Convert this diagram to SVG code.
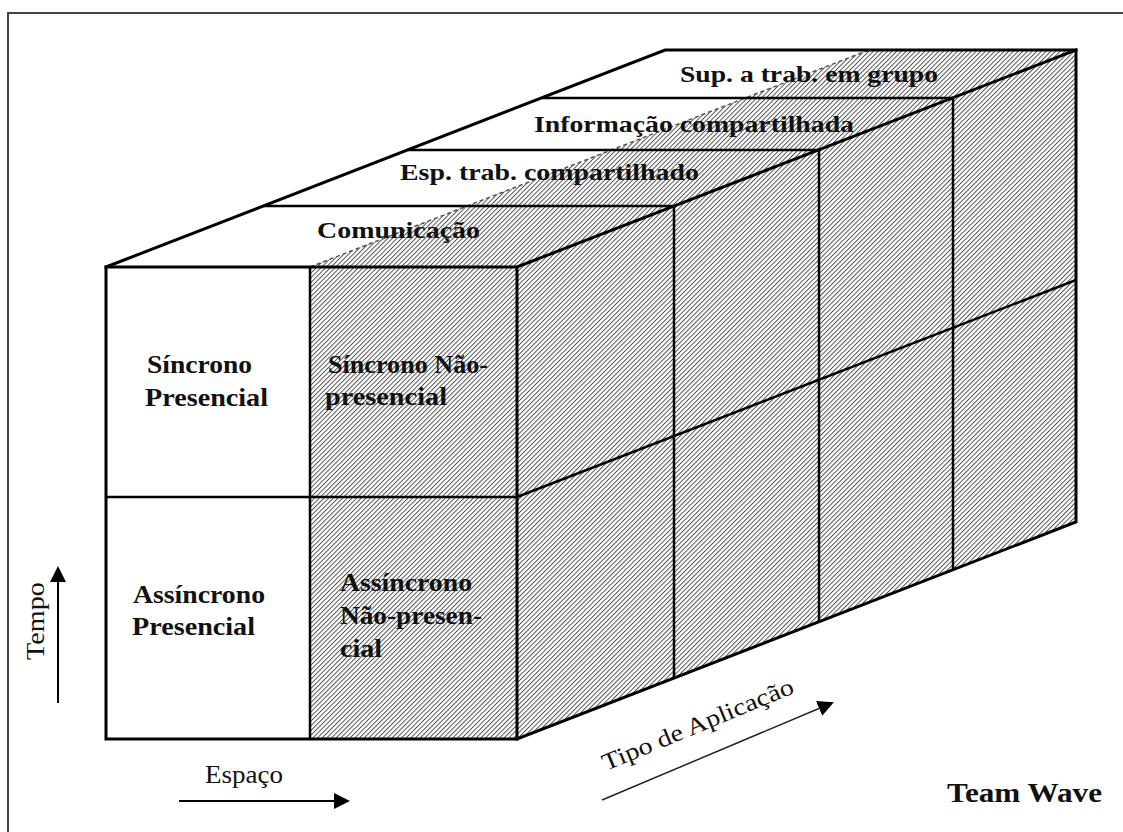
<svg xmlns="http://www.w3.org/2000/svg" width="1123" height="832" viewBox="0 0 1123 832">
<style>
.t{font-family:"Liberation Serif","Times New Roman",serif;fill:#111}
.b{font-weight:bold}
.edge{stroke:#000;stroke-width:3;fill:none;stroke-linecap:square}
.inner{stroke:#000;stroke-width:2.5;fill:none}
.hatch{fill:url(#h)}
</style>
<defs>
<pattern id="h" width="3.3" height="3.3" patternUnits="userSpaceOnUse" patternTransform="rotate(45)">
<rect width="3.3" height="3.3" fill="#fff"/>
<line x1="0.5" y1="0" x2="0.5" y2="3.3" stroke="#444" stroke-width="0.9"/>
</pattern>
<marker id="arr" markerWidth="16" markerHeight="16" refX="14" refY="8" orient="auto" markerUnits="userSpaceOnUse">
<path d="M0,0 L16,8 L0,16 Z" fill="#000"/>
</marker>
</defs>
<rect width="1123" height="832" fill="#fff"/>
<path d="M8,832 V13 H1123" fill="none" stroke="#444" stroke-width="2"/>

<g id="box">
<polygon points="106,267 310,267 869,50 665,50" fill="#fff"/>
<polygon class="hatch" points="310,267 517,267 1076,50 869,50"/>
<polygon class="hatch" points="517,267 1076,50 1076,522 517,739"/>
<rect x="106" y="267" width="204" height="472" fill="#fff"/>
<rect class="hatch" x="310" y="267" width="207" height="472"/>
<line x1="310" y1="267" x2="869" y2="50" stroke="#555" stroke-width="1.5" stroke-dasharray="4 3"/>
<line class="inner" x1="263" y1="206" x2="674" y2="206"/>
<line class="inner" x1="408" y1="150" x2="819" y2="150"/>
<line class="inner" x1="542" y1="98" x2="953" y2="98"/>
<line class="inner" x1="674" y1="206" x2="674" y2="678"/>
<line class="inner" x1="819" y1="150" x2="819" y2="622"/>
<line class="inner" x1="953" y1="98" x2="953" y2="570"/>
<line class="inner" x1="517" y1="497" x2="1076" y2="280"/>
<line class="inner" x1="310" y1="267" x2="310" y2="739"/>
<line class="inner" x1="106" y1="497" x2="517" y2="497"/>
<path class="edge" d="M106,267 L665,50 L1076,50 L1076,522 L517,739 L106,739 Z"/>
<path class="edge" d="M106,267 H517 V739 M517,267 L1076,50"/>
</g>

<g id="cell-sincrono-presencial">
<text class="t b" font-size="25" x="147" y="373" textLength="105" lengthAdjust="spacingAndGlyphs">Síncrono</text>
<text class="t b" font-size="25" x="145" y="406" textLength="123" lengthAdjust="spacingAndGlyphs">Presencial</text>
</g>
<g id="cell-sincrono-nao-presencial">
<text class="t b" font-size="25" x="328" y="373" textLength="160" lengthAdjust="spacingAndGlyphs">Síncrono Não-</text>
<text class="t b" font-size="25" x="325" y="405" textLength="122" lengthAdjust="spacingAndGlyphs">presencial</text>
</g>
<g id="cell-assincrono-presencial">
<text class="t b" font-size="25" x="133" y="603" textLength="132" lengthAdjust="spacingAndGlyphs">Assíncrono</text>
<text class="t b" font-size="25" x="132" y="635" textLength="123" lengthAdjust="spacingAndGlyphs">Presencial</text>
</g>
<g id="cell-assincrono-nao-presencial">
<text class="t b" font-size="25" x="340" y="591" textLength="132" lengthAdjust="spacingAndGlyphs">Assíncrono</text>
<text class="t b" font-size="25" x="340" y="624" textLength="142" lengthAdjust="spacingAndGlyphs">Não-presen-</text>
<text class="t b" font-size="25" x="340" y="657" textLength="42" lengthAdjust="spacingAndGlyphs">cial</text>
</g>

<g id="layer-comunicacao"><text class="t b" font-size="24" x="317" y="238" textLength="163" lengthAdjust="spacingAndGlyphs">Comunicação</text></g>
<g id="layer-esp-trab"><text class="t b" font-size="24" x="400" y="180" textLength="299" lengthAdjust="spacingAndGlyphs">Esp. trab. compartilhado</text></g>
<g id="layer-informacao"><text class="t b" font-size="24" x="534" y="132" textLength="320" lengthAdjust="spacingAndGlyphs">Informação compartilhada</text></g>
<g id="layer-sup"><text class="t b" font-size="24" x="680" y="82" textLength="258" lengthAdjust="spacingAndGlyphs">Sup. a trab. em grupo</text></g>

<g id="connectors">
<line x1="58" y1="703" x2="58" y2="568" stroke="#000" stroke-width="2" marker-end="url(#arr)"/>
<line x1="179" y1="801" x2="348" y2="801" stroke="#000" stroke-width="2" marker-end="url(#arr)"/>
<line x1="602" y1="800" x2="832" y2="703" stroke="#222" stroke-width="1.5" marker-end="url(#arr)"/>
</g>

<g id="axis-labels">
<text class="t" font-size="26" transform="translate(44,660) rotate(-90)" textLength="78" lengthAdjust="spacingAndGlyphs">Tempo</text>
<text class="t" font-size="26" x="205" y="783" textLength="78" lengthAdjust="spacingAndGlyphs">Espaço</text>
<text class="t" font-size="24" transform="translate(606,771) rotate(-22.5)" textLength="205" lengthAdjust="spacingAndGlyphs">Tipo de Aplicação</text>
<text class="t b" font-size="28" x="947" y="802" textLength="155" lengthAdjust="spacingAndGlyphs">Team Wave</text>
</g>
</svg>
